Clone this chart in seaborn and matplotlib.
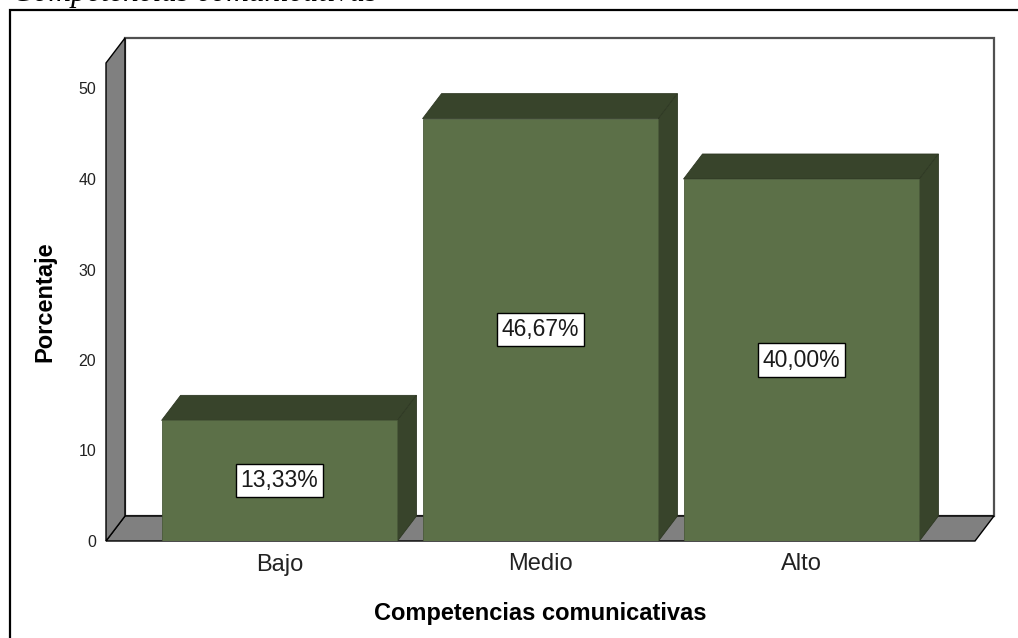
import matplotlib
matplotlib.use("Agg")
import matplotlib.pyplot as plt
from matplotlib.patches import Polygon, Rectangle
import seaborn as sns
import pandas as pd

# Data
categories = ["Bajo", "Medio", "Alto"]
percentages = [13.33, 46.67, 40.00]
value_labels = ["13,33%", "46,67%", "40,00%"]
y_ticks = [0, 10, 20, 30, 40, 50]
x_title = "Competencias comunicativas"
y_title = "Porcentaje"
caption = "Competencias comunicativas"

W, H, DPI = 1018, 638, 100
FRONT = "#5c7048"
DARK = "#38442b"
WALL = "#808080"
DEPTH_X, DEPTH_Y = 19, 25  # depth of the 3D box in pixels

sns.set_theme(style="white")
plt.rcParams["font.family"] = ["Liberation Sans", "DejaVu Sans"]

fig = plt.figure(figsize=(W / DPI, H / DPI), dpi=DPI)
fig.patch.set_facecolor("white")

# outer frame (runs past the right and bottom edges)
fig.add_artist(Rectangle((10 / W, -0.1), 1.2, 1 - 10 / H + 0.1, transform=fig.transFigure,
                         fill=False, edgecolor="black", linewidth=1.6, zorder=0))
# caption line above the frame, mostly above the top edge
fig.text(12 / W, 1 - 0.5 / H, caption, family="Liberation Serif", style="italic",
         fontsize=22.5, va="baseline", ha="left", color="black")

left_px, right_px, base_px, top_px = 106, 975, 541, 63
ax = fig.add_axes([left_px / W, (H - base_px) / H, (right_px - left_px) / W, (base_px - top_px) / H])
ax.set_facecolor("none")

df = pd.DataFrame({"cat": categories, "pct": percentages})
sns.barplot(data=df, x="cat", y="pct", color=FRONT, saturation=1, width=0.904,
            edgecolor="#4a5a3a", linewidth=0.6, ax=ax, zorder=4)

ymax = (base_px - top_px) / 9.05
ax.set_ylim(0, ymax)
ax.set_xlim(-0.665, 2.665)
fig.canvas.draw()

# pixel depth converted to data units
inv = ax.transData.inverted()
p0 = inv.transform(ax.transData.transform((0, 0)))
p1 = inv.transform(ax.transData.transform((0, 0)) + [DEPTH_X, DEPTH_Y])
dx, dy = p1[0] - p0[0], p1[1] - p0[1]
x0, x1 = ax.get_xlim()

# back wall
ax.add_patch(Rectangle((x0 + dx, dy), x1 - x0, ymax, facecolor="white",
                       edgecolor="#505050", linewidth=1.6, clip_on=False, zorder=0.5))
# floor
ax.add_patch(Polygon([(x0, 0), (x1, 0), (x1 + dx, dy), (x0 + dx, dy)], closed=True,
                     facecolor=WALL, edgecolor="black", linewidth=1.0, clip_on=False, zorder=1))
# left wall
ax.add_patch(Polygon([(x0, 0), (x0 + dx, dy), (x0 + dx, ymax + dy), (x0, ymax)], closed=True,
                     facecolor=WALL, edgecolor="black", linewidth=1.0, clip_on=False, zorder=1))

# side and top faces of each bar
for bar, label in zip(ax.patches[:len(categories)], value_labels):
    bx, bw, bh = bar.get_x(), bar.get_width(), bar.get_height()
    top = Polygon([(bx, bh), (bx + bw, bh), (bx + bw + dx, bh + dy), (bx + dx, bh + dy)],
                  closed=True, facecolor=DARK, edgecolor="#2e3823", linewidth=0.6,
                  clip_on=False, zorder=3)
    side = Polygon([(bx + bw, 0), (bx + bw + dx, dy), (bx + bw + dx, bh + dy), (bx + bw, bh)],
                   closed=True, facecolor=DARK, edgecolor="#2e3823", linewidth=0.6,
                   clip_on=False, zorder=3)
    ax.add_patch(top)
    ax.add_patch(side)
    ax.text(bx + bw / 2, bh / 2, label, ha="center", va="center", fontsize=16.5,
            color="#1a1a1a", zorder=6,
            bbox=dict(boxstyle="square,pad=0.22", facecolor="white", edgecolor="black", linewidth=1.0))

for s in ax.spines.values():
    s.set_visible(False)
ax.set_yticks(y_ticks)
ax.tick_params(axis="y", length=0, pad=7, labelsize=11.5, labelcolor="#222222")
ax.tick_params(axis="x", length=0, pad=9, labelsize=17, labelcolor="#222222")
ax.set_xlabel(x_title, fontsize=17, fontweight="bold", labelpad=19, color="black")
ax.set_ylabel(y_title, fontsize=17, fontweight="bold", labelpad=16, color="black")
ax.grid(False)

fig.savefig("out.png", dpi=DPI, facecolor="white")
